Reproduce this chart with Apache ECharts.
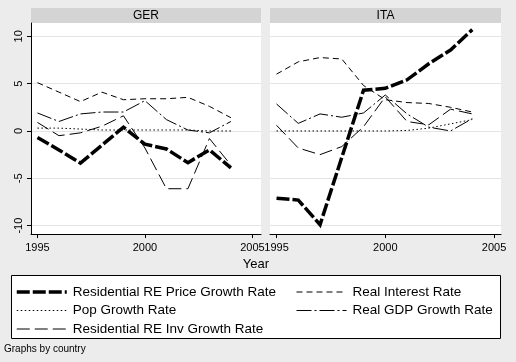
<!DOCTYPE html>
<html><head><meta charset="utf-8">
<script src="https://cdn.jsdelivr.net/npm/echarts@6/dist/echarts.min.js"></script>
<style>html,body{margin:0;padding:0;background:#ececec}#c{width:516px;height:362px}</style>
</head><body><div id="c"></div>
<script>
// ---- data ----
const years = [1995, 1996, 1997, 1998, 1999, 2000, 2001, 2002, 2003, 2004];
const panels = ['GER', 'ITA'];
const seriesNames = ['Residential RE Price Growth Rate', 'Real Interest Rate', 'Pop Growth Rate', 'Real GDP Growth Rate', 'Residential RE Inv Growth Rate'];
const xTicks = [1995, 2000, 2005];
const yTicks = [-10, -5, 0, 5, 10];

const gerPrice    = [-0.7, -2.0, -3.4, -1.5, 0.4, -1.4, -1.9, -3.35, -2.0, -3.9];
const gerInterest = [5.1, 4.1, 3.1, 4.1, 3.3, 3.4, 3.4, 3.55, 2.6, 1.4];
const gerPop      = [0.3, 0.3, 0.2, 0.1, 0.1, 0.1, 0.1, 0.1, 0.0, 0.0];
const gerGdp      = [1.9, 1.0, 1.8, 2.0, 2.0, 3.2, 1.2, 0.1, -0.2, 1.0];
const gerInv      = [0.9, -0.5, -0.2, 0.5, 1.6, -1.8, -6.1, -6.1, -0.8, -3.6];

const itaPrice    = [-7.1, -7.3, -9.9, -2.8, 4.3, 4.5, 5.4, 7.1, 8.55, 10.7];
const itaInterest = [6.0, 7.3, 7.75, 7.6, 4.8, 3.3, 3.0, 2.9, 2.5, 2.0];
const itaPop      = [0.0, 0.0, 0.0, 0.0, 0.0, 0.0, 0.05, 0.3, 0.75, 1.2];
const itaGdp      = [2.85, 0.8, 1.8, 1.45, 1.9, 3.8, 1.8, 0.4, 0.0, 1.3];
const itaInv      = [0.6, -1.8, -2.5, -1.65, 0.45, 3.6, 1.0, 0.65, 2.3, 1.8];

const panelData = [
  [gerPrice, gerInterest, gerPop, gerGdp, gerInv],
  [itaPrice, itaInterest, itaPop, itaGdp, itaInv]
];

// ---- styles ----
const FONT = 'Liberation Sans, Arial, sans-serif';
const lineStyles = [
  { width: 3.5, type: [13, 3] },
  { width: 1, type: [6, 4] },
  { width: 1, type: [1.5, 2.5] },
  { width: 1, type: [15, 3, 2, 3] },
  { width: 1, type: [13, 5] }
];

const grids = [
  { left: 31, top: 23, width: 230, height: 211 },
  { left: 270, top: 23, width: 231, height: 211 }
];
const xRanges = [[1994.7, 2005.4], [1994.7, 2005.32]];

const series = [];
panelData.forEach((arr, p) => {
  arr.forEach((vals, i) => {
    series.push({
      name: seriesNames[i], type: 'line', xAxisIndex: p, yAxisIndex: p,
      data: years.map((y, k) => [y, vals[k]]),
      symbol: 'none', showSymbol: false, clip: false, silent: true,
      color: '#000',
      itemStyle: { color: '#000' },
      z: i === 0 ? 5 : 3,
      lineStyle: Object.assign({ color: '#000', cap: 'butt', join: 'miter' }, lineStyles[i])
    });
  });
});

const legendBase = {
  top: 280, orient: 'vertical', itemWidth: 50, itemHeight: 14, itemGap: 4.5,
  selectedMode: false,
  textStyle: { fontSize: 13.5, color: '#000', fontFamily: FONT, padding: [0, 0, 0, 1] },
  lineStyle: { width: 'inherit' },
  itemStyle: { opacity: 0, borderWidth: 0 }
};

const option = {
  backgroundColor: '#ececec',
  animation: false,
  textStyle: { fontFamily: FONT },
  grid: grids.map(g => Object.assign({ show: true, backgroundColor: '#fff', borderWidth: 0 }, g)),
  xAxis: grids.map((g, p) => ({
    type: 'value', gridIndex: p, min: xRanges[p][0], max: xRanges[p][1],
    axisLine: { show: true, onZero: false, lineStyle: { color: '#000', width: 1 } },
    axisTick: { show: true, customValues: xTicks, length: 4, lineStyle: { color: '#000' } },
    axisLabel: { customValues: xTicks, color: '#000', fontSize: 11, margin: 8, fontFamily: FONT,
                 formatter: v => String(v) },
    splitLine: { show: false }
  })),
  yAxis: grids.map((g, p) => ({
    type: 'value', gridIndex: p, min: -10.88, max: 11.4,
    axisLine: { show: p === 0, lineStyle: { color: '#000', width: 1 } },
    axisTick: { show: p === 0, customValues: yTicks, length: 4, lineStyle: { color: '#000' } },
    axisLabel: { show: p === 0, customValues: yTicks, rotate: 90, color: '#000', fontSize: 11, margin: 7, fontFamily: FONT,
                 formatter: v => String(v) },
    splitLine: { show: true, lineStyle: { color: '#e4e4e4', width: 1 } }
  })),
  legend: [
    Object.assign({}, legendBase, { left: 10, data: [seriesNames[0], seriesNames[2], seriesNames[4]] }),
    Object.assign({}, legendBase, { left: 291, data: [seriesNames[1], seriesNames[3]] })
  ],
  graphic: [
    { type: 'rect', shape: { x: 31, y: 8, width: 230, height: 15 }, style: { fill: '#d4d4d4' }, z: 0 },
    { type: 'rect', shape: { x: 270, y: 8, width: 231, height: 15 }, style: { fill: '#d4d4d4' }, z: 0 },
    { type: 'text', x: 146, y: 16, style: { text: panels[0], font: '12px ' + FONT, fill: '#000', textAlign: 'center', textVerticalAlign: 'middle' }, z: 1 },
    { type: 'text', x: 385.5, y: 16, style: { text: panels[1], font: '12px ' + FONT, fill: '#000', textAlign: 'center', textVerticalAlign: 'middle' }, z: 1 },
    { type: 'text', x: 256, y: 264, style: { text: 'Year', font: '13px ' + FONT, fill: '#000', textAlign: 'center', textVerticalAlign: 'middle' }, z: 1 },
    { type: 'rect', shape: { x: 11.5, y: 275.5, width: 489, height: 63 }, style: { fill: '#fff', stroke: '#000', lineWidth: 1 }, z: 0 },
    { type: 'text', x: 4, y: 349, style: { text: 'Graphs by country', font: '10px ' + FONT, fill: '#000', textAlign: 'left', textVerticalAlign: 'middle' }, z: 1 }
  ],
  series: series
};

const chart = echarts.init(document.getElementById('c'), null, { renderer: 'canvas' });
chart.setOption(option);
</script>
</body></html>
